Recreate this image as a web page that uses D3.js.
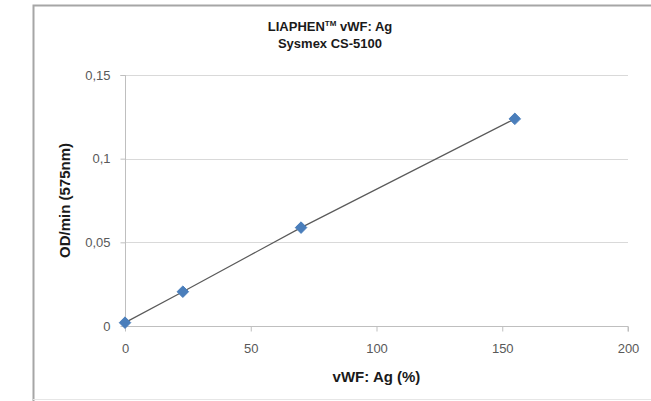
<!DOCTYPE html>
<html><head><meta charset="utf-8">
<script src="https://cdn.jsdelivr.net/npm/d3@7"></script>
<style>body{margin:0;background:#fff}svg{display:block}</style>
</head><body><svg id="c" width="651" height="401"></svg>
<script>
const xValues = [0, 23, 70, 155];
const yValues = [0.002, 0.0205, 0.0588, 0.1238];
const xTicks = [0, 50, 100, 150, 200];
const yTicks = [0, 0.05, 0.1, 0.15];
const titleLines = ["LIAPHEN", "Sysmex CS-5100"];
const xTitle = "vWF: Ag (%)";
const yTitle = "OD/min (575nm)";

const svg = d3.select("#c");
const fmt = v => String(v).replace(".", ",");
const x = d3.scaleLinear().domain([0, 200]).range([125, 628]);
const y = d3.scaleLinear().domain([0, 0.15]).range([326, 75]);

// outer frame
svg.append("path").attr("d","M33.5,401 V5.5 H651").attr("fill","none").attr("stroke","#a6a6a6").attr("stroke-width",2);
svg.append("line").attr("x1",33).attr("x2",651).attr("y1",399.5).attr("y2",399.5).attr("stroke","#e6e6e6");

// grid
svg.append("g").selectAll("line").data(yTicks.filter(d=>d>0)).join("line")
  .attr("x1",x(0)).attr("x2",x(200)).attr("y1",d=>Math.round(y(d))+0.5).attr("y2",d=>Math.round(y(d))+0.5)
  .attr("stroke","#d9d9d9");

const tickFont = "13px 'Liberation Sans', Arial, sans-serif";
// y axis
const ya = svg.append("g").attr("transform",`translate(${x(0)+0.5},0)`)
  .call(d3.axisLeft(y).tickValues(yTicks).tickFormat(fmt).tickSize(5).tickPadding(10).offset(0.5));
ya.select(".domain").attr("stroke","#bfbfbf").attr("d",`M-5,${y(0.15)+0.5}H0V${y(0)+0.5}`);
ya.selectAll(".tick line").attr("stroke","#bfbfbf");
ya.selectAll("text").attr("fill","#595959").style("font",tickFont);

// x axis
const xa = svg.append("g").attr("transform",`translate(0,${Math.round(y(0))+0.5})`)
  .call(d3.axisBottom(x).tickValues(xTicks).tickSize(5).tickPadding(12).offset(0.5));
xa.select(".domain").attr("stroke","#bfbfbf").attr("d",`M${x(0)},0H${x(200)}V5`);
xa.selectAll(".tick line").attr("stroke","#bfbfbf");
xa.selectAll("text").attr("fill","#595959").style("font",tickFont);

// line
const pts = xValues.map((v,i)=>[v,yValues[i]]);
svg.append("path").datum(pts).attr("fill","none").attr("stroke","#5a5a5a").attr("stroke-width",1.2)
  .attr("d", d3.line().x(d=>x(d[0])).y(d=>y(d[1])));

// markers
svg.append("g").selectAll("path").data(pts).join("path")
  .attr("transform",d=>`translate(${x(d[0])},${y(d[1])})`)
  .attr("d", d3.symbol(d3.symbolDiamond2, 85)())
  .attr("fill","#4a7ebb").attr("stroke","#4a7ebb").attr("stroke-width",1);

// titles
const tf = "bold 13px 'Liberation Sans', Arial, sans-serif";
const af = "bold 15px 'Liberation Sans', Arial, sans-serif";
const t1 = svg.append("text").attr("x",330).attr("y",31).attr("text-anchor","middle").attr("fill","#1a1a1a").style("font",tf);
t1.append("tspan").text(titleLines[0]);
t1.append("tspan").attr("dy",-5).style("font-size","8px").text("TM");
t1.append("tspan").attr("dy",5).text(" vWF: Ag");
svg.append("text").attr("x",330).attr("y",48).attr("text-anchor","middle").attr("fill","#1a1a1a").style("font",tf).text(titleLines[1]);

svg.append("text").attr("x",x(100)).attr("y",382).attr("text-anchor","middle").attr("fill","#1a1a1a").style("font",af).text(xTitle);
svg.append("text").attr("transform",`translate(70,${y(0.075)}) rotate(-90)`).attr("text-anchor","middle").attr("fill","#1a1a1a").style("font",af).text(yTitle);
</script></body></html>
